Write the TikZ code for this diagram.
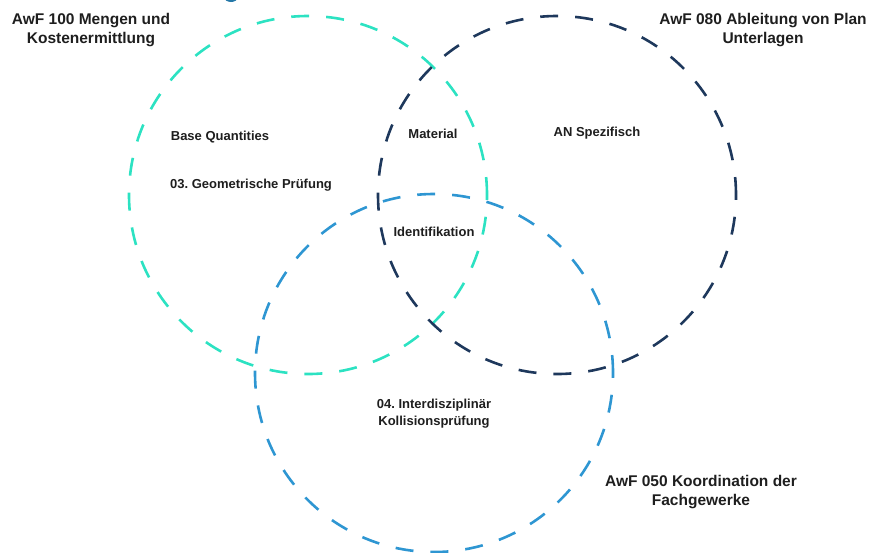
\documentclass[tikz,border=0pt]{standalone}
\usepackage{fontspec}
\setmainfont{Liberation Sans}
\frenchspacing
\definecolor{ringteal}{RGB}{44,226,194}
\definecolor{ringnavy}{RGB}{30,56,92}
\definecolor{ringblue}{RGB}{46,150,210}
\definecolor{inktext}{RGB}{30,30,30}
\begin{document}
\begin{tikzpicture}[x=1pt,y=-1pt,
  ring/.style={circle, draw, inner sep=0pt, minimum size=358pt,
    line width=2.6pt, dash pattern=on 18pt off 17pt},
  title/.style={font=\bfseries\fontsize{15.5}{19.5}\selectfont, align=center, text=inktext, inner sep=0pt},
  tag/.style={font=\bfseries\fontsize{13}{17}\selectfont, align=center, text=inktext, inner sep=0pt}]
\useasboundingbox (0,0) rectangle (869,552);
\clip (0,0) rectangle (869,552);

% small mark cut by the top edge
\fill[ringblue!80!black] (231,-3) ellipse [x radius=7pt, y radius=5pt];

% the three dashed sets
\node[ring, draw=ringteal] (setA) at (308,195) {};
\node[ring, draw=ringnavy] (setB) at (557,195) {};
\node[ring, draw=ringblue] (setC) at (434,373) {};

% set titles
\node[title] (titleA) at (91,30) {AwF 100 Mengen und\\Kostenermittlung};
\node[title] (titleB) at (763,30) {AwF 080 Ableitung von Plan\\Unterlagen};
\node[title] (titleC) at (701,492) {AwF 050 Koordination der\\Fachgewerke};

% region labels
\node[tag] (baseq) at (220,137) {Base Quantities};
\node[tag] (geom) at (251,185) {03. Geometrische Prüfung};
\node[tag] (material) at (433,134) {Material};
\node[tag] (anspez) at (597,133) {AN Spezifisch};
\node[tag] (ident) at (434,232) {Identifikation};
\node[tag] (kolli) at (434,414) {04. Interdisziplinär\\Kollisionsprüfung};
\end{tikzpicture}
\end{document}
